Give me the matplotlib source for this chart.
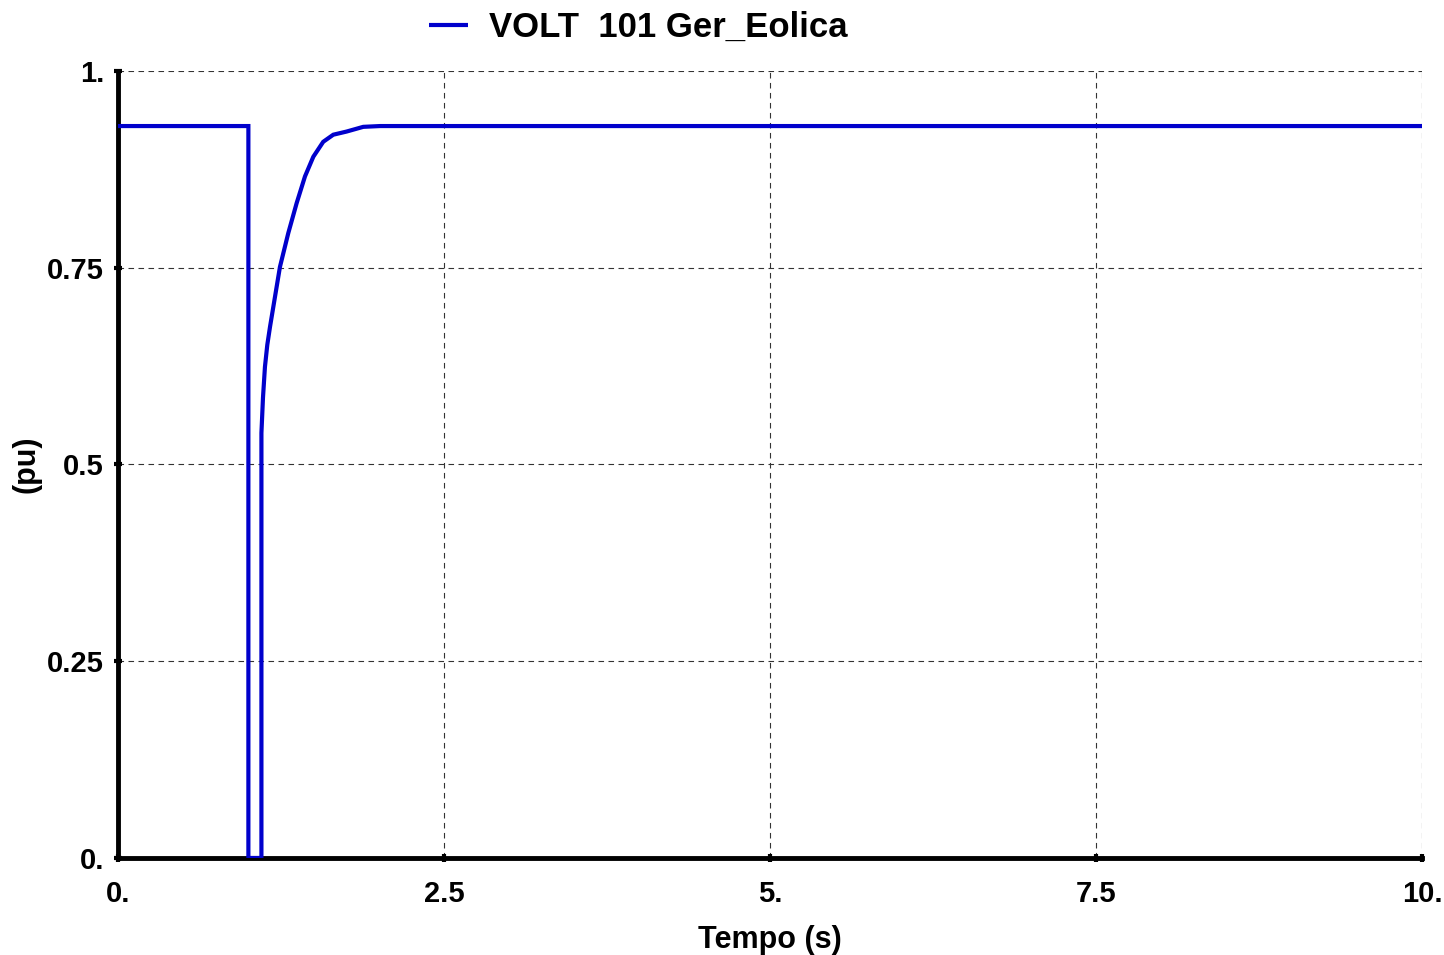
import matplotlib.pyplot as plt

plt.rcParams['font.family'] = ['Liberation Sans', 'DejaVu Sans']
plt.rcParams['font.weight'] = 'bold'

# Bus voltage at the wind generator (pu) vs simulation time (s)
tempo = [0.0, 1.0, 1.0, 1.1, 1.1, 1.112, 1.127, 1.145, 1.166, 1.204, 1.242, 1.306,
         1.370, 1.434, 1.498, 1.574, 1.651, 1.753, 1.881, 2.01, 10.0]
volt = [0.930, 0.930, 0.0, 0.0, 0.540, 0.585, 0.624, 0.652, 0.675, 0.713, 0.751,
        0.794, 0.832, 0.866, 0.891, 0.910, 0.919, 0.923, 0.929, 0.930, 0.930]

xticks = [0, 2.5, 5, 7.5, 10]
xlabels = ['0.', '2.5', '5.', '7.5', '10.']
yticks = [0, 0.25, 0.5, 0.75, 1.0]
ylabels = ['0.', '0.25', '0.5', '0.75', '1.']

fig = plt.figure(figsize=(14.44, 9.55), dpi=100)
ax = fig.add_axes([0.0817, 0.1016, 0.9031, 0.8241])

ax.plot(tempo, volt, color='#0000cc', linewidth=3, label='VOLT  101 Ger_Eolica',
        solid_joinstyle='miter', solid_capstyle='butt', zorder=3)

ax.set_xlim(0, 10)
ax.set_ylim(0, 1)
ax.set_xticks(xticks)
ax.set_xticklabels(xlabels)
ax.set_yticks(yticks)
ax.set_yticklabels(ylabels)
ax.tick_params(axis='both', labelsize=21, width=3, length=6, direction='inout',
               colors='black')
ax.tick_params(axis='x', pad=13)
ax.tick_params(axis='y', pad=7)

ax.grid(True, color='#333333', linestyle=(0, (5, 4)), linewidth=0.8)

for side in ['top', 'right']:
    ax.spines[side].set_visible(False)
for side in ['left', 'bottom']:
    ax.spines[side].set_linewidth(3.5)
    ax.spines[side].set_color('black')

ax.set_xlabel('Tempo (s)', fontsize=22, fontweight='bold', labelpad=12)
ax.set_ylabel('(pu)', fontsize=22, fontweight='bold', labelpad=4)

fig.legend(loc='upper center', bbox_to_anchor=(0.442, 1.0215), frameon=False,
           prop={'size': 25, 'weight': 'bold'}, handlelength=1.1, handletextpad=0.6)

fig.savefig('out.png', dpi=100, facecolor='white')
